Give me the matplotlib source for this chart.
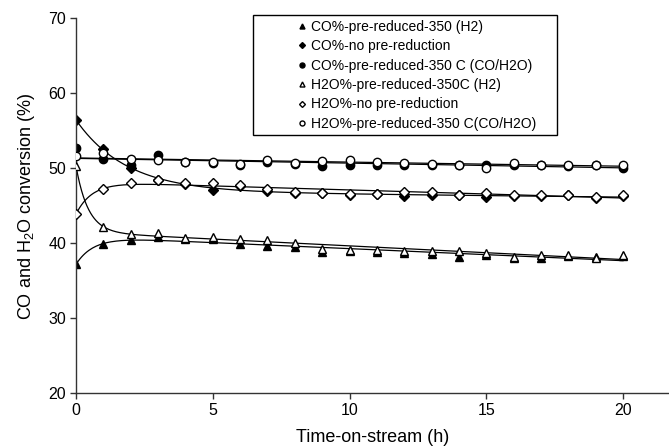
#!/usr/bin/env python3

import matplotlib
matplotlib.use('Agg')
import matplotlib.pyplot as plt
from matplotlib.patches import Rectangle
import numpy as np

plt.rcParams['font.family'] = ['Liberation Sans', 'DejaVu Sans']
plt.rcParams['mathtext.default'] = 'regular'

hours = np.arange(0, 21)

co_h2 = [37.2, 39.9, 40.5, 40.9, 40.6, 40.6, 39.9, 39.6, 39.5, 38.8, 39.0,
         38.9, 38.7, 38.6, 38.2, 38.5, 38.1, 38.1, 38.3, 38.2, 38.3]
co_none = [56.4, 52.6, 50.0, 48.4, 47.9, 47.1, 47.7, 47.0, 46.75, 46.7, 46.4,
           46.6, 46.3, 46.4, 46.4, 46.2, 46.3, 46.3, 46.4, 46.1, 46.3]
co_coh2o = [52.75, 51.3, 50.4, 51.8, 50.8, 50.7, 50.4, 50.9, 50.6, 50.3, 50.5,
            50.4, 50.5, 50.4, 50.5, 50.5, 50.4, 50.5, 50.35, 50.5, 50.0]
h2o_h2 = [50.3, 42.2, 41.2, 41.4, 40.75, 40.9, 40.6, 40.4, 40.1, 39.3, 39.1,
          39.1, 39.0, 39.0, 39.0, 38.7, 38.2, 38.4, 38.5, 38.1, 38.4]
h2o_none = [43.9, 47.2, 48.0, 48.4, 48.0, 48.0, 47.8, 47.2, 46.8, 46.7, 46.6,
            46.6, 46.9, 46.9, 46.4, 46.75, 46.5, 46.4, 46.5, 46.2, 46.4]
h2o_coh2o = [51.6, 52.0, 51.3, 51.1, 50.8, 50.8, 50.6, 51.1, 50.7, 51.0, 51.1,
             50.9, 50.7, 50.6, 50.5, 50.0, 50.7, 50.5, 50.4, 50.5, 50.5]

labels = ['CO%-pre-reduced-350 (H2)',
          'CO%-no pre-reduction',
          'CO%-pre-reduced-350 C (CO/H2O)',
          'H2O%-pre-reduced-350C (H2)',
          'H2O%-no pre-reduction',
          'H2O%-pre-reduced-350 C(CO/H2O)']


def trend(x, y, xs, linear=False):
    # fit y = a + b*x + c*exp(-x/tau), pick best tau
    x = np.asarray(x, float)
    y = np.asarray(y, float)
    if linear:
        p = np.polyfit(x, y, 1)
        return np.polyval(p, xs)
    best = None
    for tau in np.linspace(0.3, 6, 120):
        A = np.column_stack([np.ones_like(x), x, np.exp(-x / tau)])
        coef = np.linalg.lstsq(A, y, rcond=None)[0]
        err = np.sum((A @ coef - y) ** 2)
        if best is None or err < best[0]:
            best = (err, tau, coef)
    _, tau, coef = best
    return coef[0] + coef[1] * xs + coef[2] * np.exp(-xs / tau)


W, H = 669, 447
fig = plt.figure(figsize=(W / 100, H / 100), dpi=100)
ax = fig.add_axes([76 / W, 1 - 393.3 / H, 1 - 76 / W, (393.3 - 18.3) / H])

xs = np.linspace(0, 20, 300)
for ys, lin in [(co_h2, False), (co_none, False), (co_coh2o, True),
                (h2o_h2, False), (h2o_none, False), (h2o_coh2o, True)]:
    ax.plot(xs, trend(hours, ys, xs, lin), color='black', lw=0.9, zorder=1)

ms = 6
ax.plot(hours, co_h2, '^', color='black', ms=ms, ls='none', label=labels[0], zorder=2)
ax.plot(hours, co_none, 'D', color='black', ms=ms - 1, ls='none', label=labels[1], zorder=2)
ax.plot(hours, co_coh2o, 'o', color='black', ms=ms, ls='none', label=labels[2], zorder=2)
ax.plot(hours, h2o_h2, '^', mfc='white', mec='black', mew=1, ms=ms, ls='none', label=labels[3], zorder=3)
ax.plot(hours, h2o_none, 'D', mfc='white', mec='black', mew=1, ms=ms - 1, ls='none', label=labels[4], zorder=3)
ax.plot(hours, h2o_coh2o, 'o', mfc='white', mec='black', mew=1, ms=ms, ls='none', label=labels[5], zorder=3)

ax.set_xlim(0, (W - 76) / 27.35)
ax.set_ylim(20, 70)
ax.set_xticks([0, 5, 10, 15, 20])
ax.set_yticks([20, 30, 40, 50, 60, 70])
ax.spines['top'].set_visible(False)
ax.spines['right'].set_visible(False)
for s in ['left', 'bottom']:
    ax.spines[s].set_color('#333333')
    ax.spines[s].set_linewidth(1.0)
ax.tick_params(direction='out', length=4, width=1, color='#333333',
               labelsize=11.5, pad=3)
ax.set_xlabel('Time-on-stream (h)', fontsize=13, labelpad=8)
ax.set_ylabel('CO and H$_2$O conversion (%)', fontsize=13, labelpad=8)

# legend text without frame, frame drawn as a plain box
leg = ax.legend(loc='upper left', bbox_to_anchor=(296 / W, 1 - 20 / H),
                bbox_transform=fig.transFigure, frameon=False, fontsize=10,
                markerscale=0.6, handlelength=0.8, handletextpad=0.3,
                labelspacing=0.385, borderpad=0, borderaxespad=0)
fig.patches.append(Rectangle((253 / W, 1 - 135 / H), (557 - 253) / W,
                             (135 - 15) / H, transform=fig.transFigure,
                             fill=False, edgecolor='black', lw=1.0))

fig.savefig('out.png', dpi=100)
